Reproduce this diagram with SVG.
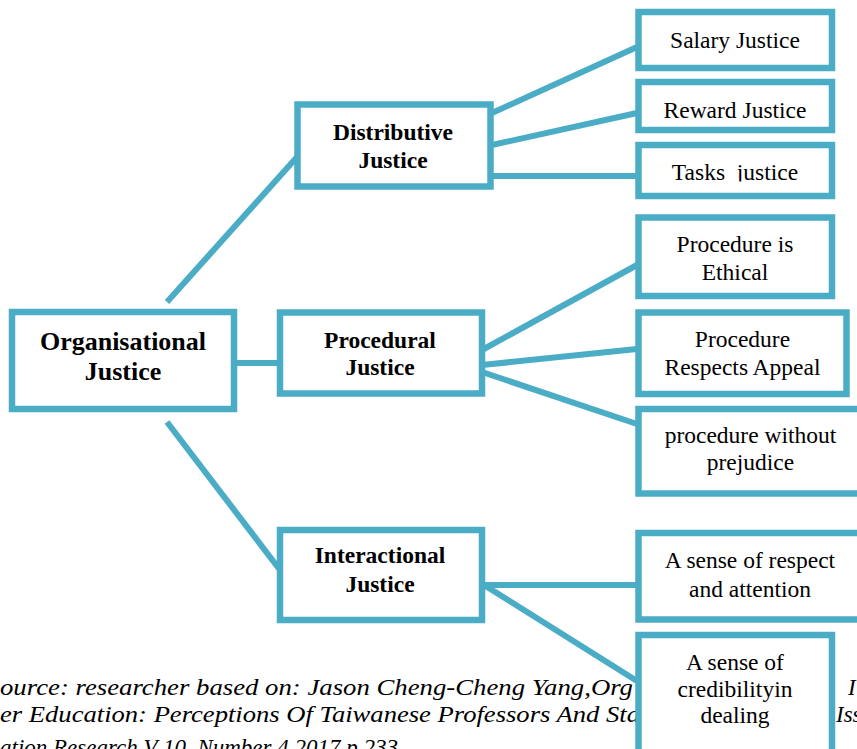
<svg xmlns="http://www.w3.org/2000/svg" width="857" height="749" viewBox="0 0 857 749">
<style>
.box{fill:#fff;stroke:#4BACC6;stroke-width:6.5}
.ln{stroke:#4BACC6;stroke-width:6;fill:none}
text{font-family:'Liberation Serif','Times New Roman',Times,Tinos,'Nimbus Roman','DejaVu Serif',serif;fill:#000}
.t{font-size:23.5px;text-anchor:middle}
.b{font-size:23.5px;font-weight:bold;text-anchor:middle}
.c{font-size:23px;font-style:italic}
</style>
<defs>
<clipPath id="clipReward"><rect x="642" y="85" width="187" height="34.5"/></clipPath>
<clipPath id="clipTasks"><rect x="642" y="148" width="187" height="33.5"/></clipPath>
</defs>
<g id="citation">
<text class="c" x="0" y="695" textLength="633" lengthAdjust="spacingAndGlyphs">ource: researcher based on: Jason Cheng-Cheng Yang,Org</text>
<text class="c" x="0" y="722" textLength="640" lengthAdjust="spacingAndGlyphs">er Education: Perceptions Of Taiwanese Professors And Sta</text>
<text class="c" x="0" y="755">ation Research V 10, Number 4 2017 p 233</text>
<text class="c" x="848" y="695">I</text>
<text class="c" x="836" y="722">Iss</text>
</g>
<g id="connectors">
<line class="ln" x1="167" y1="302" x2="297" y2="157"/>
<line class="ln" x1="236" y1="363" x2="279" y2="363"/>
<line class="ln" x1="167" y1="422" x2="280" y2="570"/>
<line class="ln" x1="492" y1="113" x2="637" y2="47"/>
<line class="ln" x1="492" y1="145" x2="637" y2="113"/>
<line class="ln" x1="492" y1="176" x2="637" y2="176"/>
<line class="ln" x1="482" y1="350" x2="637" y2="265"/>
<line class="ln" x1="482" y1="365" x2="637" y2="349"/>
<line class="ln" x1="482" y1="372" x2="637" y2="424"/>
<line class="ln" x1="484" y1="585" x2="637" y2="585"/>
<line class="ln" x1="484" y1="585" x2="637" y2="681"/>
</g>
<g id="organisational">
<rect class="box" x="12" y="312" width="222" height="97"/>
<text class="b" x="123" y="350" style="font-size:26px">Organisational</text>
<text class="b" x="123" y="380" style="font-size:26px">Justice</text>
</g>
<g id="distributive">
<rect class="box" x="297.5" y="104.5" width="193" height="82"/>
<text class="b" x="393" y="140">Distributive</text>
<text class="b" x="393" y="168">Justice</text>
</g>
<g id="procedural">
<rect class="box" x="280" y="312.5" width="202" height="81"/>
<text class="b" x="380" y="348">Procedural</text>
<text class="b" x="380" y="375">Justice</text>
</g>
<g id="interactional">
<rect class="box" x="280" y="530" width="202" height="90"/>
<text class="b" x="380" y="563">Interactional</text>
<text class="b" x="380" y="592">Justice</text>
</g>
<g id="salary">
<rect class="box" x="638.5" y="12" width="193.5" height="56"/>
<text class="t" x="735" y="48">Salary Justice</text>
</g>
<g id="reward">
<rect class="box" x="638.5" y="82" width="193.5" height="48"/>
<text class="t" x="735" y="118" clip-path="url(#clipReward)">Reward Justice</text>
</g>
<g id="tasks">
<rect class="box" x="638.5" y="145" width="193.5" height="51"/>
<text class="t" x="735" y="180" xml:space="preserve" clip-path="url(#clipTasks)">Tasks  justice</text>
</g>
<g id="ethical">
<rect class="box" x="638.5" y="217.5" width="193.5" height="78.5"/>
<text class="t" x="735" y="252">Procedure is</text>
<text class="t" x="735" y="280">Ethical</text>
</g>
<g id="appeal">
<rect class="box" x="638.5" y="312.5" width="208" height="81.5"/>
<text class="t" x="742.5" y="347">Procedure</text>
<text class="t" x="742.5" y="375">Respects Appeal</text>
</g>
<g id="prejudice">
<rect class="box" x="638.5" y="409" width="224" height="84.5"/>
<text class="t" x="750.5" y="443">procedure without</text>
<text class="t" x="750.5" y="470">prejudice</text>
</g>
<g id="respect">
<rect class="box" x="638.5" y="533" width="224" height="86.5"/>
<text class="t" x="750" y="568">A sense of respect</text>
<text class="t" x="750" y="597">and attention</text>
</g>
<g id="credibility">
<rect class="box" x="638.5" y="635" width="193.5" height="130"/>
<text class="t" x="735" y="670">A sense of</text>
<text class="t" x="735" y="697">credibilityin</text>
<text class="t" x="735" y="723">dealing</text>
</g>
</svg>
